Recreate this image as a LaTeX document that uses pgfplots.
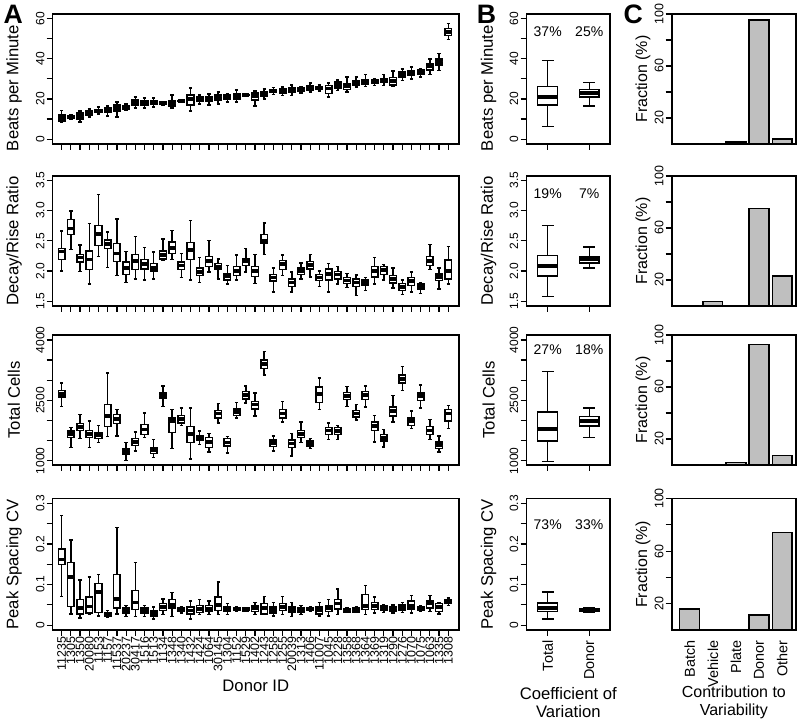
\documentclass[border=0pt]{standalone}
\usepackage{pgfplots}
\pgfplotsset{compat=1.18}
\usepgfplotslibrary{statistics}
\usepackage{fontspec}
\setmainfont{Liberation Sans}
\newcommand{\tickfont}{\fontsize{9}{10}\selectfont}
\newcommand{\ctickfont}{\fontsize{9.3}{10}\selectfont}
\newcommand{\labfont}{\fontsize{12.5}{13.5}\selectfont}
\newcommand{\clabfont}{\fontsize{12}{13.5}\selectfont}
\newcommand{\catfont}{\fontsize{10.8}{12}\selectfont}
\newcommand{\donfont}{\fontsize{9.3}{10}\selectfont}
\newcommand{\pctfont}{\fontsize{10.5}{12}\selectfont}
\newcommand{\bx}[6]{\addplot[draw=black, fill=white, line width=1.1pt,
  boxplot prepared={draw direction=y, draw position=#1, lower whisker=#2, lower quartile=#3,
  median=#4, upper quartile=#5, upper whisker=#6}] coordinates {};}
\newcommand{\bars}[5]{\addplot[ybar, bar width=0.86, fill=black!25, draw=black, line width=1pt]
  coordinates {(1,#1) (2,#2) (3,#3) (4,#4) (5,#5)};}
\pgfplotsset{
  boxplot/every median/.style={line width=2.8pt},
  base/.style={scale only axis, anchor=south west,
    axis line style={line width=1.2pt},
    every tick/.style={black, line width=0.9pt},
    tick align=outside, major tick length=4.5pt,
    xtick pos=bottom, ytick pos=left,
    ticklabel style={font=\tickfont},
    /pgf/number format/assume math mode=true,
    yticklabel style={rotate=90, anchor=south, inner sep=1.5pt},
    scaled y ticks=false,
    ylabel style={font=\labfont, anchor=center},
    xlabel style={font=\labfont, anchor=center, align=center}},
  Acol/.style={base, at={(39.5pt,#1)}, width=304.7pt,
    xmin=-0.98, xmax=43.16, xtick={0,...,42}, xticklabels={},
    boxplot/box extend=0.72, boxplot/whisker extend=0.36,
    ylabel style={at={(axis description cs:-0.0953,0.5)}}},
  Bcol/.style={base, at={(394.9pt,#1)}, width=62.6pt,
    xmin=0.49, xmax=2.5, xtick={1,2}, xticklabels={},
    boxplot/box extend=0.48, boxplot/whisker extend=0.28,
    ylabel style={at={(axis description cs:-0.455,0.5)}}},
  Ccol/.style={base, at={(503.8pt,#1)}, width=93.2pt,
    xmin=0.22, xmax=5.6, ymin=0, ymax=100, xtick=\empty,
    ytick={20,40,60,80,100}, yticklabels={20,,60,,100},
    yticklabel style={font=\ctickfont},
    ylabel={Fraction (\%)},
    ylabel style={font=\clabfont, at={(axis description cs:-0.231,0.5)}}},
  r1/.style={height=97.5pt, ymin=-2.4, ymax=62.3, ytick={0,10,20,30,40,50,60}, yticklabels={0,,20,,40,,60}},
  r2/.style={height=97.5pt, ymin=1.42, ymax=3.57, ytick={1.5,2,2.5,3,3.5}, yticklabels={1.5,2.0,2.5,3.0,3.5}},
  % row 3 values are in thousands of cells
  r3/.style={height=97.5pt, ymin=0.895, ymax=4.122, ytick={1,1.5,2,2.5,3,3.5,4}, yticklabels={1000,,,2500,,,4000}},
  r4/.style={height=98.6pt, ymin=-0.012, ymax=0.312, ytick={0,0.05,0.1,0.15,0.2,0.25,0.3}, yticklabels={0,,0.1,,0.2,,0.3}},
}
\begin{document}
\begin{tikzpicture}
\path[use as bounding box] (0,0) rectangle (600pt,540.75pt);
% ---------------- Row 1 ----------------
\begin{axis}[Acol=432.75pt, r1, ylabel={Beats per Minute}, ylabel style={at={(axis description cs:-0.0953,0.43)}}]
\bx{0}{8.4}{9}{10.5}{12}{14.3}
\bx{1}{10}{10.5}{11}{11.5}{12}
\bx{2}{8.5}{10}{11.5}{13}{14}
\bx{3}{11}{12}{13}{14}{15}
\bx{4}{12.5}{13.5}{14}{14.8}{16}
\bx{5}{11.5}{13.5}{15}{15.5}{16.5}
\bx{6}{11}{14}{15.5}{17}{18.5}
\bx{7}{14.5}{15}{16}{16.5}{17.5}
\bx{8}{15.5}{17}{18}{19.5}{21}
\bx{9}{15.5}{17}{18}{19}{20.5}
\bx{10}{16}{17.3}{18.2}{19}{20.5}
\bx{11}{17}{17.5}{18}{18.5}{18.8}
\bx{12}{15.5}{16.5}{18}{19}{22}
\bx{13}{18.5}{18.8}{19}{19.3}{19.5}
\bx{14}{14}{17}{20}{22}{25.5}
\bx{15}{17.5}{19}{20}{21}{22}
\bx{16}{17}{19}{20}{21}{22.5}
\bx{17}{17.5}{19.5}{21}{22}{23.5}
\bx{18}{18.5}{20}{21}{22}{22.5}
\bx{19}{18.5}{20}{21.5}{22.5}{24.5}
\bx{20}{21.5}{21.7}{22}{22.3}{22.5}
\bx{21}{16.5}{19.5}{21.5}{23}{24}
\bx{22}{20}{21.5}{22.3}{23.5}{25}
\bx{23}{22.3}{23.5}{24}{24.8}{25.7}
\bx{24}{21.8}{23}{24}{25}{26}
\bx{25}{21.8}{23.5}{24.7}{25.7}{27}
\bx{26}{23}{24}{24.7}{25.5}{26}
\bx{27}{23.5}{24.5}{25.5}{26.5}{28}
\bx{28}{24}{25}{25.5}{26.2}{27}
\bx{29}{21}{22.7}{25.2}{26.8}{28}
\bx{30}{24.3}{25.5}{26.8}{28.5}{29.5}
\bx{31}{23.5}{24.7}{26.3}{27.7}{31}
\bx{32}{26}{27}{28}{29}{31}
\bx{33}{26.3}{27.3}{28.5}{29.5}{32.3}
\bx{34}{26.8}{28}{28.8}{29.5}{30}
\bx{35}{26.8}{28.3}{29.3}{30.3}{32.3}
\bx{36}{26.3}{27}{28.8}{30.7}{34}
\bx{37}{29.3}{31}{32.3}{33.5}{35}
\bx{38}{30}{32}{33}{34}{36}
\bx{39}{31}{32.5}{33.5}{34.5}{35}
\bx{40}{32.3}{34.5}{36.3}{37.5}{40}
\bx{41}{34.3}{37}{38.5}{40}{42.7}
\bx{42}{49.7}{51.5}{53.5}{55}{57.7}
\end{axis}
\begin{axis}[Bcol=432.75pt, r1, ylabel={Beats per Minute}, ylabel style={at={(axis description cs:-0.455,0.43)}}]
\bx{1}{6.3}{16.9}{20.9}{26.3}{39.2}
\bx{2}{16.6}{20.9}{22.9}{24.6}{28.1}
\node[font=\pctfont] at (axis cs:1,53.3) {37\%};
\node[font=\pctfont] at (axis cs:2,53.3) {25\%};
\end{axis}
\begin{axis}[Ccol=432.75pt, height=97.5pt]
\bars{0}{0.3}{1.5}{95.4}{3.9}
\end{axis}
% ---------------- Row 2 ----------------
\begin{axis}[Acol=311.25pt, r2, ylabel={Decay/Rise Ratio}]
\bx{0}{2.0}{2.19}{2.32}{2.37}{2.66}
\bx{1}{2.35}{2.6}{2.7}{2.85}{2.99}
\bx{2}{1.99}{2.15}{2.22}{2.27}{2.43}
\bx{3}{1.78}{2.02}{2.19}{2.33}{2.78}
\bx{4}{2.24}{2.42}{2.61}{2.75}{3.26}
\bx{5}{2.06}{2.37}{2.44}{2.51}{2.64}
\bx{6}{1.92}{2.16}{2.29}{2.45}{2.86}
\bx{7}{1.81}{1.94}{2.05}{2.15}{2.32}
\bx{8}{1.87}{2.02}{2.17}{2.27}{2.57}
\bx{9}{1.85}{2.03}{2.12}{2.19}{2.39}
\bx{10}{1.87}{2.0}{2.05}{2.12}{2.31}
\bx{11}{2.17}{2.2}{2.26}{2.33}{2.53}
\bx{12}{2.19}{2.29}{2.38}{2.48}{2.67}
\bx{13}{1.89}{2.02}{2.09}{2.15}{2.29}
\bx{14}{1.85}{2.19}{2.34}{2.47}{2.83}
\bx{15}{1.81}{1.92}{1.98}{2.05}{2.22}
\bx{16}{1.98}{2.07}{2.16}{2.24}{2.5}
\bx{17}{1.87}{2.02}{2.07}{2.12}{2.2}
\bx{18}{1.78}{1.85}{1.91}{1.96}{2.09}
\bx{19}{1.85}{1.92}{2.0}{2.07}{2.26}
\bx{20}{1.98}{2.09}{2.16}{2.2}{2.37}
\bx{21}{1.79}{1.91}{2.0}{2.07}{2.27}
\bx{22}{2.27}{2.45}{2.5}{2.6}{2.79}
\bx{23}{1.65}{1.83}{1.89}{1.94}{2.05}
\bx{24}{1.92}{2.02}{2.11}{2.17}{2.26}
\bx{25}{1.65}{1.74}{1.81}{1.87}{1.98}
\bx{26}{1.87}{1.94}{2.0}{2.05}{2.13}
\bx{27}{1.9}{2.03}{2.1}{2.16}{2.27}
\bx{28}{1.74}{1.84}{1.89}{1.94}{2.0}
\bx{29}{1.65}{1.85}{1.95}{2.03}{2.12}
\bx{30}{1.78}{1.87}{1.94}{1.99}{2.07}
\bx{31}{1.73}{1.79}{1.84}{1.89}{1.96}
\bx{32}{1.59}{1.74}{1.81}{1.87}{1.93}
\bx{33}{1.68}{1.76}{1.8}{1.85}{1.89}
\bx{34}{1.78}{1.9}{2.0}{2.07}{2.22}
\bx{35}{1.85}{1.94}{2.02}{2.07}{2.11}
\bx{36}{1.72}{1.8}{1.87}{1.92}{2.05}
\bx{37}{1.61}{1.68}{1.73}{1.79}{1.85}
\bx{38}{1.65}{1.76}{1.83}{1.89}{1.98}
\bx{39}{1.63}{1.69}{1.73}{1.78}{1.81}
\bx{40}{2.02}{2.09}{2.17}{2.24}{2.44}
\bx{41}{1.7}{1.84}{1.9}{1.95}{2.05}
\bx{42}{1.78}{1.87}{2.0}{2.18}{2.4}
\end{axis}
\begin{axis}[Bcol=311.25pt, r2, ylabel={Decay/Rise Ratio}]
\bx{1}{1.578}{1.914}{2.08}{2.257}{2.753}
\bx{2}{2.046}{2.13}{2.2}{2.24}{2.394}
\node[font=\pctfont] at (axis cs:1,3.278) {19\%};
\node[font=\pctfont] at (axis cs:2,3.278) {7\%};
\end{axis}
\begin{axis}[Ccol=311.25pt, height=97.5pt]
\bars{0}{3.3}{0}{75}{23}
\end{axis}
% ---------------- Row 3 (thousands of cells) ----------------
\begin{axis}[Acol=192pt, r3, ylabel={Total Cells}]
\bx{0}{2.353}{2.583}{2.665}{2.747}{2.927}
\bx{1}{1.328}{1.574}{1.656}{1.738}{1.820}
\bx{2}{1.549}{1.754}{1.836}{1.927}{2.148}
\bx{3}{1.328}{1.574}{1.672}{1.754}{1.984}
\bx{4}{1.451}{1.549}{1.631}{1.697}{1.877}
\bx{5}{1.599}{1.845}{2.107}{2.394}{3.173}
\bx{6}{1.615}{1.927}{2.041}{2.148}{2.271}
\bx{7}{1.000}{1.164}{1.246}{1.303}{1.451}
\bx{8}{1.246}{1.385}{1.467}{1.549}{1.713}
\bx{9}{1.574}{1.656}{1.779}{1.902}{2.189}
\bx{10}{1.082}{1.180}{1.262}{1.328}{1.533}
\bx{11}{2.353}{2.558}{2.632}{2.698}{2.861}
\bx{12}{1.303}{1.697}{1.984}{2.066}{2.271}
\bx{13}{1.877}{1.943}{2.041}{2.123}{2.312}
\bx{14}{1.041}{1.451}{1.656}{1.845}{2.312}
\bx{15}{1.410}{1.517}{1.574}{1.631}{1.738}
\bx{16}{1.221}{1.328}{1.467}{1.574}{1.680}
\bx{17}{1.943}{2.066}{2.173}{2.254}{2.418}
\bx{18}{1.189}{1.369}{1.451}{1.549}{1.598}
\bx{19}{2.066}{2.123}{2.205}{2.287}{2.451}
\bx{20}{2.435}{2.533}{2.640}{2.722}{2.861}
\bx{21}{2.107}{2.287}{2.394}{2.476}{2.681}
\bx{22}{3.132}{3.296}{3.403}{3.501}{3.706}
\bx{23}{1.246}{1.352}{1.434}{1.516}{1.615}
\bx{24}{1.959}{2.066}{2.173}{2.271}{2.476}
\bx{25}{1.123}{1.328}{1.426}{1.516}{1.681}
\bx{26}{1.451}{1.574}{1.656}{1.754}{1.959}
\bx{27}{1.303}{1.369}{1.426}{1.492}{1.549}
\bx{28}{2.271}{2.451}{2.665}{2.829}{3.050}
\bx{29}{1.533}{1.656}{1.754}{1.820}{1.943}
\bx{30}{1.533}{1.656}{1.738}{1.820}{1.877}
\bx{31}{2.353}{2.517}{2.615}{2.697}{2.845}
\bx{32}{2.008}{2.082}{2.173}{2.254}{2.394}
\bx{33}{2.337}{2.517}{2.624}{2.722}{2.861}
\bx{34}{1.467}{1.754}{1.861}{1.959}{2.123}
\bx{35}{1.344}{1.492}{1.574}{1.656}{1.779}
\bx{36}{1.959}{2.107}{2.230}{2.337}{2.615}
\bx{37}{2.738}{2.927}{3.025}{3.132}{3.337}
\bx{38}{1.795}{1.877}{1.984}{2.066}{2.230}
\bx{39}{2.312}{2.501}{2.599}{2.681}{2.886}
\bx{40}{1.533}{1.656}{1.754}{1.845}{2.025}
\bx{41}{1.221}{1.303}{1.385}{1.467}{1.615}
\bx{42}{1.795}{1.984}{2.173}{2.271}{2.369}
\end{axis}
\begin{axis}[Bcol=192pt, r3, ylabel={Total Cells}]
\bx{1}{0.985}{1.493}{1.781}{2.207}{3.217}
\bx{2}{1.576}{1.862}{1.985}{2.094}{2.315}
\node[font=\pctfont] at (axis cs:1,3.751) {27\%};
\node[font=\pctfont] at (axis cs:2,3.751) {18\%};
\end{axis}
\begin{axis}[Ccol=192pt, height=97.5pt]
\bars{0}{0}{1.8}{92.8}{7.2}
\end{axis}
% ---------------- Row 4 ----------------
\begin{axis}[Acol=68.25pt, r4, ylabel={Peak Spacing CV},
  xticklabels={11235,1305,1350,20080,1153,1157,11537,20237,30417,1516,1513,1134,1348,1340,1432,1424,1064,30145,1304,1152,1529,1402,1243,1258,1255,20039,1313,1406,11007,1045,1228,1358,1368,1364,1369,1319,1290,1276,1070,1075,1063,1335,1308},
  xticklabel style={rotate=90, anchor=east, font=\donfont, inner sep=0.5pt},
  xlabel={Donor ID}, xlabel style={at={(axis description cs:0.5,-0.425)}}]
\bx{0}{0.071}{0.15}{0.162}{0.188}{0.27}
\bx{1}{0.028}{0.046}{0.119}{0.155}{0.21}
\bx{2}{0.017}{0.028}{0.042}{0.063}{0.111}
\bx{3}{0.026}{0.03}{0.046}{0.069}{0.119}
\bx{4}{0.023}{0.031}{0.081}{0.102}{0.125}
\bx{5}{0.019}{0.021}{0.025}{0.03}{0.036}
\bx{6}{0.028}{0.042}{0.064}{0.125}{0.24}
\bx{7}{0.021}{0.03}{0.036}{0.042}{0.048}
\bx{8}{0.021}{0.038}{0.056}{0.086}{0.155}
\bx{9}{0.021}{0.03}{0.036}{0.042}{0.048}
\bx{10}{0.015}{0.023}{0.03}{0.036}{0.045}
\bx{11}{0.026}{0.036}{0.045}{0.053}{0.064}
\bx{12}{0.021}{0.042}{0.05}{0.063}{0.081}
\bx{13}{0.03}{0.034}{0.038}{0.042}{0.045}
\bx{14}{0.015}{0.028}{0.036}{0.045}{0.06}
\bx{15}{0.026}{0.031}{0.04}{0.048}{0.063}
\bx{16}{0.026}{0.034}{0.04}{0.048}{0.059}
\bx{17}{0.026}{0.036}{0.05}{0.069}{0.106}
\bx{18}{0.026}{0.034}{0.04}{0.045}{0.053}
\bx{19}{0.034}{0.036}{0.04}{0.042}{0.045}
\bx{20}{0.034}{0.036}{0.038}{0.042}{0.044}
\bx{21}{0.026}{0.034}{0.042}{0.048}{0.056}
\bx{22}{0.026}{0.028}{0.042}{0.053}{0.07}
\bx{23}{0.023}{0.03}{0.038}{0.045}{0.056}
\bx{24}{0.026}{0.036}{0.045}{0.053}{0.071}
\bx{25}{0.021}{0.031}{0.038}{0.045}{0.056}
\bx{26}{0.026}{0.031}{0.038}{0.042}{0.048}
\bx{27}{0.034}{0.036}{0.04}{0.044}{0.045}
\bx{28}{0.023}{0.028}{0.038}{0.045}{0.056}
\bx{29}{0.023}{0.034}{0.042}{0.048}{0.063}
\bx{30}{0.026}{0.04}{0.053}{0.063}{0.089}
\bx{31}{0.031}{0.032}{0.036}{0.041}{0.042}
\bx{32}{0.031}{0.032}{0.038}{0.042}{0.045}
\bx{33}{0.026}{0.038}{0.048}{0.075}{0.098}
\bx{34}{0.03}{0.038}{0.048}{0.056}{0.069}
\bx{35}{0.031}{0.036}{0.042}{0.048}{0.05}
\bx{36}{0.03}{0.034}{0.04}{0.046}{0.05}
\bx{37}{0.031}{0.036}{0.042}{0.05}{0.056}
\bx{38}{0.03}{0.04}{0.048}{0.059}{0.073}
\bx{39}{0.034}{0.036}{0.04}{0.045}{0.048}
\bx{40}{0.034}{0.042}{0.055}{0.061}{0.073}
\bx{41}{0.028}{0.034}{0.045}{0.053}{0.056}
\bx{42}{0.048}{0.053}{0.058}{0.063}{0.067}
\end{axis}
\begin{axis}[Bcol=68.25pt, r4, ylabel={Peak Spacing CV},
  xticklabels={Total,Donor}, xticklabel style={rotate=90, anchor=east, font=\catfont},
  xlabel={Coefficient of\\Variation}, xlabel style={at={(axis description cs:0.5,-0.551)}}]
\bx{1}{0.0148}{0.0336}{0.042}{0.054}{0.0815}
\bx{2}{0.031}{0.033}{0.037}{0.041}{0.043}
\node[font=\pctfont] at (axis cs:1,0.2477) {73\%};
\node[font=\pctfont] at (axis cs:2,0.2477) {33\%};
\end{axis}
\begin{axis}[Ccol=68.25pt, height=98.6pt,
  xtick={1,2,3,4,5}, xticklabels={Batch,Vehicle,Plate,Donor,Other},
  xtick style={draw=none},
  xticklabel style={rotate=90, anchor=east, font=\catfont},
  xlabel={Contribution to\\Variability}, xlabel style={font=\clabfont, at={(axis description cs:0.5,-0.551)}}]
\bars{16}{0}{0}{11.5}{74.4}
\end{axis}
% panel letters
\node[font=\bfseries\fontsize{20}{20}\selectfont, anchor=base west, inner sep=0pt] at (2.5pt,523.3pt) {A};
\node[font=\bfseries\fontsize{20}{20}\selectfont, anchor=base west, inner sep=0pt] at (357.5pt,522.75pt) {B};
\node[font=\bfseries\fontsize{20}{20}\selectfont, anchor=base west, inner sep=0pt] at (467.5pt,522.75pt) {C};
\end{tikzpicture}
\end{document}
